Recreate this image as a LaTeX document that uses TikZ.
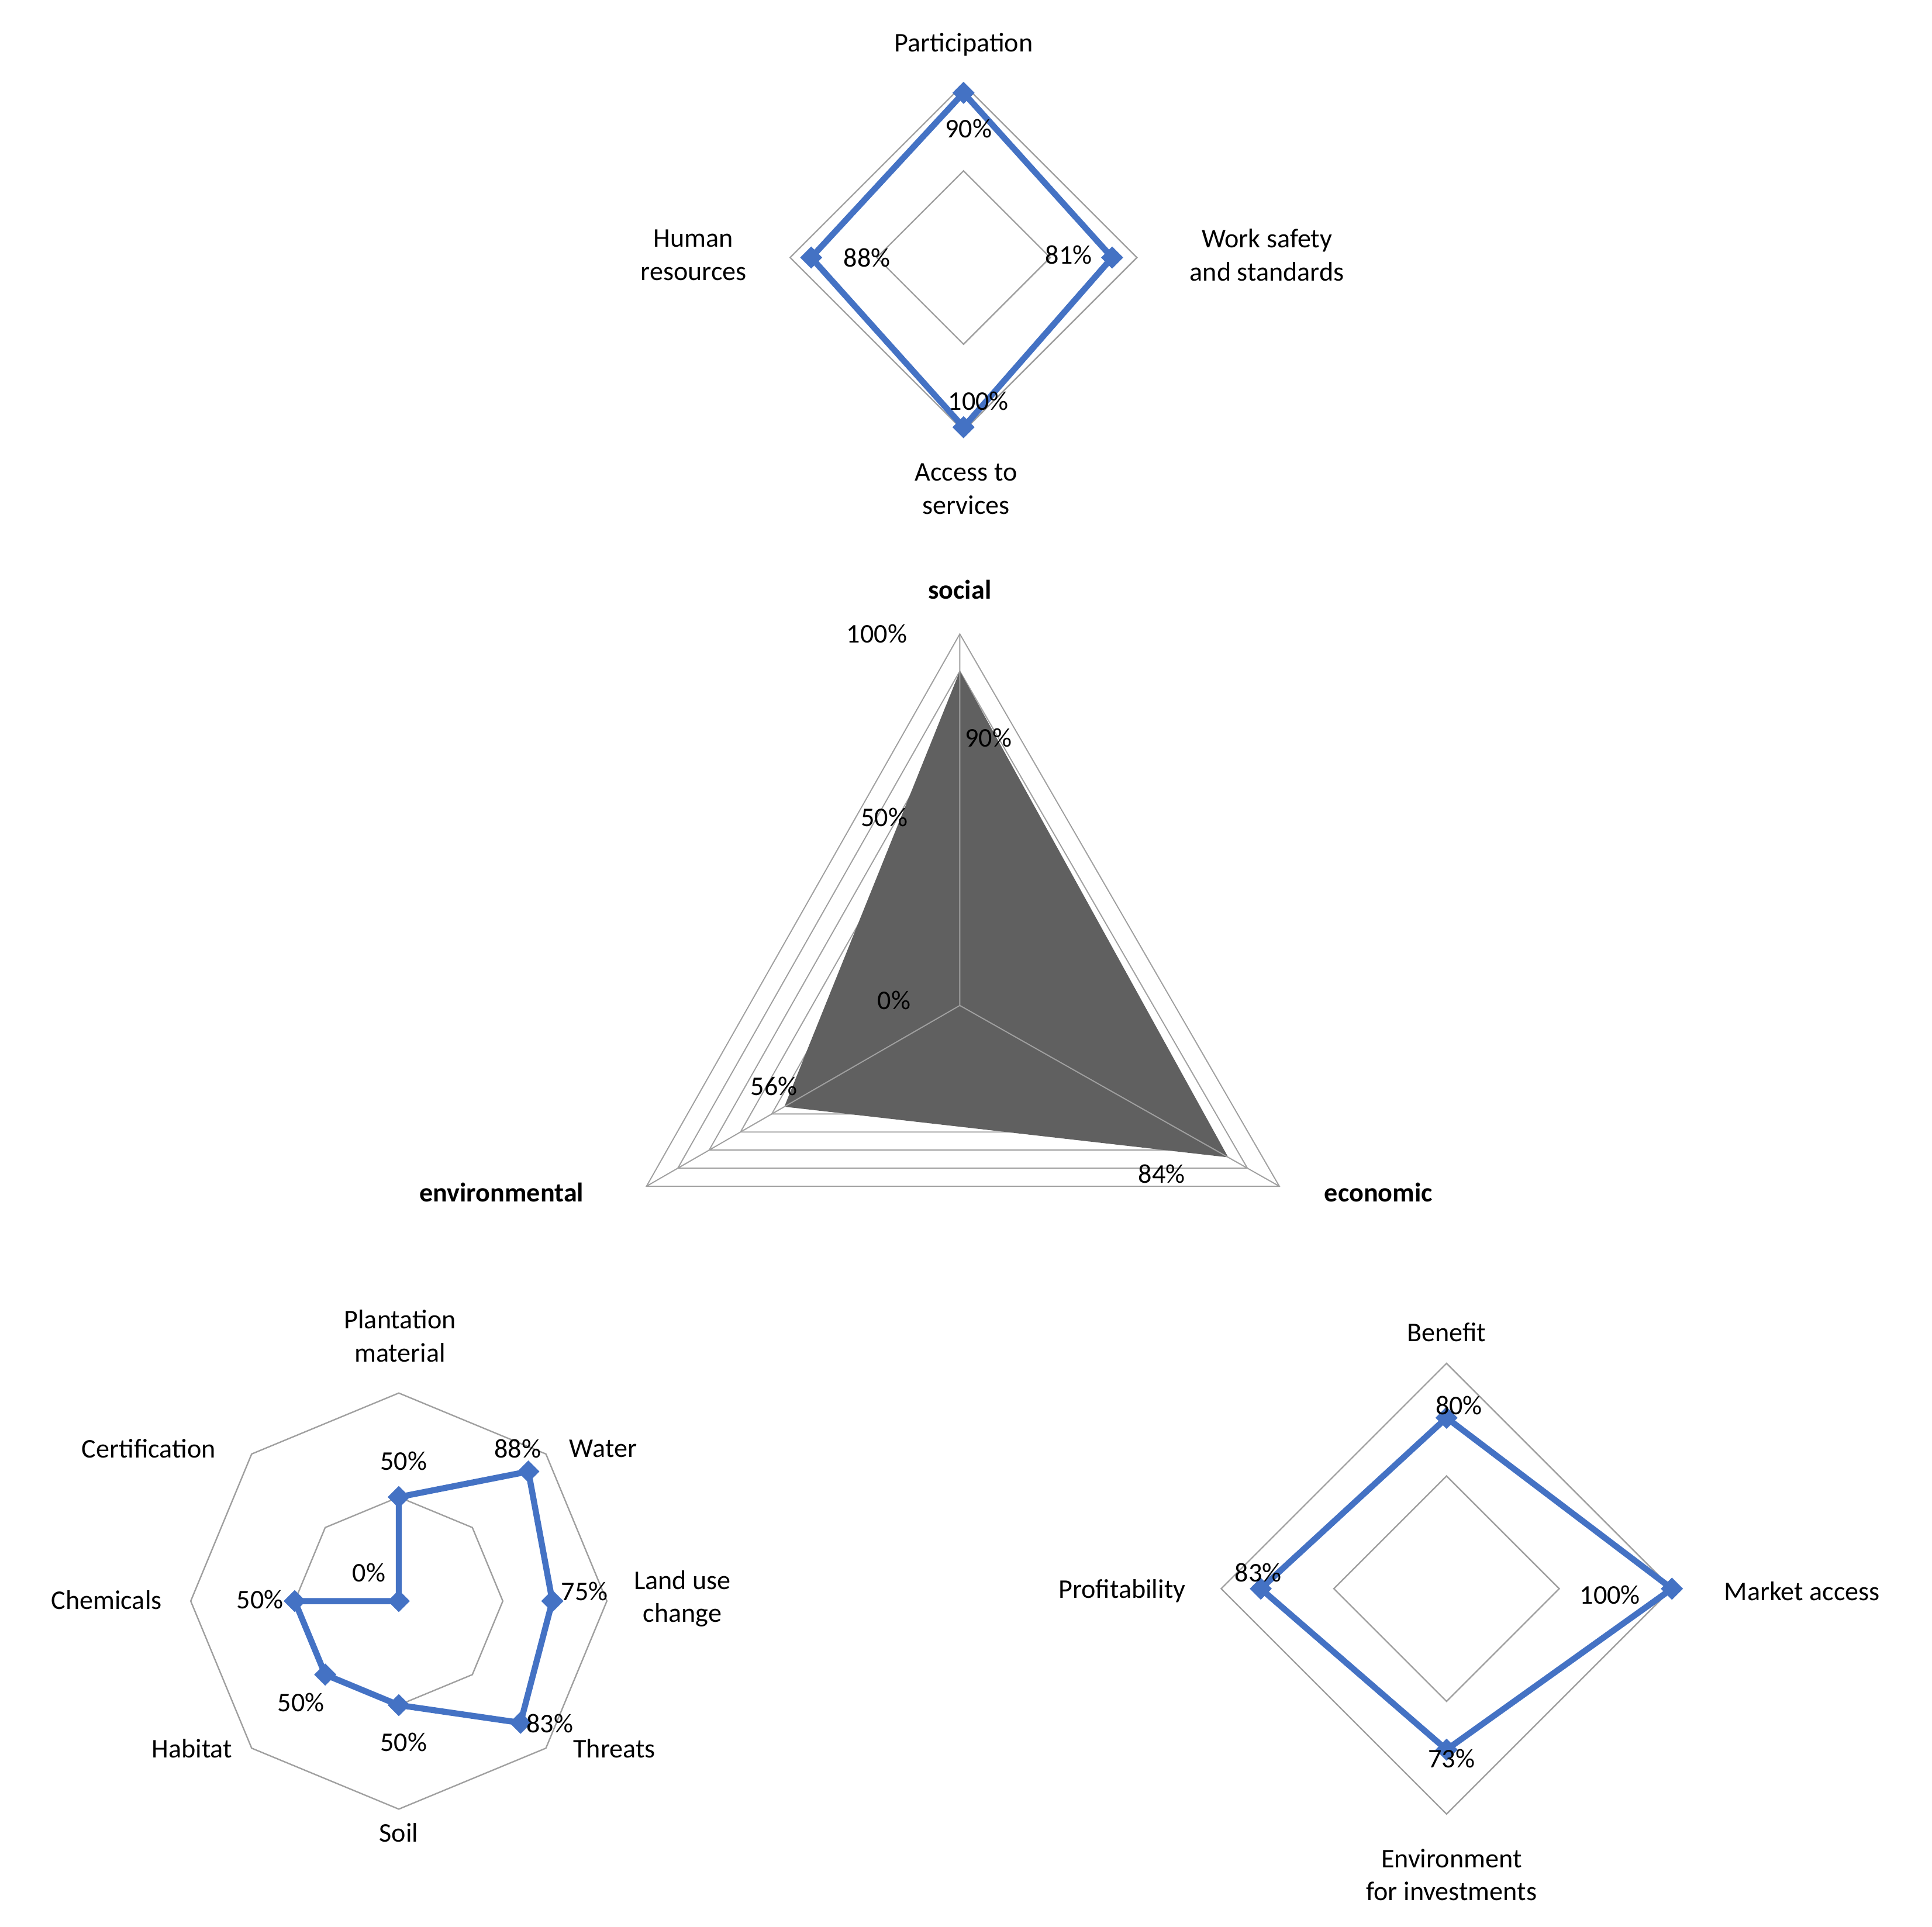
\documentclass[tikz,border=0pt]{standalone}
\usepackage{fontspec}
\setmainfont{Carlito}
\usetikzlibrary{shapes.geometric,calc}
\definecolor{ob}{RGB}{68,114,196}
\definecolor{gr}{RGB}{160,160,160}
\definecolor{df}{RGB}{96,96,96}
\begin{document}
\begin{tikzpicture}[x=0.05cm,y=-0.05cm,
  lab/.style={font=\fontsize{31}{38}\selectfont,align=center,inner sep=0pt},
  blab/.style={lab,font=\fontsize{31}{38}\selectfont\bfseries},
  grid/.style={draw=gr,line width=1.6pt},
  data/.style={draw=ob,line width=7pt,line join=round},
  mk/.style={diamond,fill=ob,minimum size=0.9cm,inner sep=0pt}]
\useasboundingbox (0,0) rectangle (1560,1556);
% ---------- top diamond
\coordinate (tc) at (778,208);
\draw[grid] (778,68)--(918,208)--(778,348)--(638,208)--cycle;
\draw[grid] (778,138)--(848,208)--(778,278)--(708,208)--cycle;
\coordinate (tp) at (778,75); \coordinate (tw) at (898,208);
\coordinate (ta) at (778,345); \coordinate (th) at (655,208);
\draw[data] (tp)--(tw)--(ta)--(th)--cycle;
\foreach \p in {tp,tw,ta,th} \node[mk] at (\p) {};
\node[lab] (l1) at (778,36) {Participation};
\node[lab] (l2) at (560,206) {Human\\resources};
\node[lab] (l3) at (1023,206) {Work safety\\and standards};
\node[lab] (l4) at (780,395) {Access to\\services};
\node[lab] (v1) at (782,104) {90\%};
\node[lab] (v2) at (863,206) {81\%};
\node[lab] (v3) at (790,324) {100\%};
\node[lab] (v4) at (700,208) {88\%};
% ---------- triangle
\coordinate (mc) at (775,812);
\foreach \f in {1,0.9,0.8,0.7,0.6}
  \draw[grid,line width=1.3pt] ($(mc)+\f*(0,-300)$)--($(mc)+\f*(258,146)$)--($(mc)+\f*(-253,146)$)--cycle;
\fill[df] ($(mc)+0.9*(0,-300)$)--($(mc)+0.84*(258,146)$)--($(mc)+0.56*(-253,146)$)--cycle;
\draw[gr,line width=1.3pt] (mc)--++(0,-300) (mc)--++(258,146) (mc)--++(-253,146);
\node[blab] (s1) at (775,476) {social};
\node[blab] (s2) at (405,963) {environmental};
\node[blab] (s3) at (1113,963) {economic};
\node[lab] (a1) at (708,512) {100\%};
\node[lab] (a2) at (798,596) {90\%};
\node[lab] (a3) at (714,660) {50\%};
\node[lab] (a4) at (722,808) {0\%};
\node[lab] (a5) at (625,877) {56\%};
\node[lab] (a6) at (938,948) {84\%};
% ---------- octagon
\coordinate (oc) at (322,1293);
\draw[grid] ($(oc)+(90:168)$) \foreach \a in {45,0,-45,-90,-135,180,135} {--($(oc)+(\a:168)$)} --cycle;
\draw[grid] ($(oc)+(90:84)$) \foreach \a in {45,0,-45,-90,-135,180,135} {--($(oc)+(\a:84)$)} --cycle;
\coordinate (o1) at ($(oc)+(-90:84)$);
\coordinate (o2) at ($(oc)+(-45:148)$);
\coordinate (o3) at ($(oc)+(0:124)$);
\coordinate (o4) at ($(oc)+(45:139)$);
\coordinate (o5) at ($(oc)+(90:84)$);
\coordinate (o6) at ($(oc)+(135:84)$);
\coordinate (o7) at ($(oc)+(180:84)$);
\draw[data] (o1)--(o2)--(o3)--(o4)--(o5)--(o6)--(o7)--(oc)--cycle;
\foreach \p in {o1,o2,o3,o4,o5,o6,o7,oc} \node[mk] at (\p) {};
\node[lab] (b1) at (323,1079) {Plantation\\material};
\node[lab] (b2) at (487,1170) {Water};
\node[lab] (b3) at (418,1170) {88\%};
\node[lab] (b4) at (120,1170) {Certification};
\node[lab] (b5) at (326,1180) {50\%};
\node[lab] (b6) at (298,1270) {0\%};
\node[lab] (b7) at (86,1292) {Chemicals};
\node[lab] (b8) at (210,1292) {50\%};
\node[lab] (b9) at (551,1291) {Land use\\change};
\node[lab] (b10) at (472,1285) {75\%};
\node[lab] (b11) at (444,1392) {83\%};
\node[lab] (b12) at (496,1412) {Threats};
\node[lab] (b13) at (243,1375) {50\%};
\node[lab] (b14) at (155,1412) {Habitat};
\node[lab] (b15) at (326,1407) {50\%};
\node[lab] (b16) at (322,1480) {Soil};
% ---------- right diamond
\coordinate (rc) at (1168,1283);
\draw[grid] (1168,1101)--(1350,1283)--(1168,1465)--(986,1283)--cycle;
\draw[grid] (1168,1192)--(1259,1283)--(1168,1374)--(1077,1283)--cycle;
\coordinate (r1) at (1168,1145); \coordinate (r2) at (1350,1283);
\coordinate (r3) at (1168,1413); \coordinate (r4) at (1018,1283);
\draw[data] (r1)--(r2)--(r3)--(r4)--cycle;
\foreach \p in {r1,r2,r3,r4} \node[mk] at (\p) {};
\node[lab] (c1) at (1168,1076) {Benefit};
\node[lab] (c2) at (1178,1135) {80\%};
\node[lab] (c3) at (1455,1285) {Market access};
\node[lab] (c4) at (1300,1288) {100\%};
\node[lab] (c5) at (906,1285) {Profitability};
\node[lab] (c6) at (1016,1270) {83\%};
\node[lab] (c7) at (1172,1420) {73\%};
\node[lab] (c8) at (1172,1514) {Environment\\for investments};
\end{tikzpicture}
\end{document}
